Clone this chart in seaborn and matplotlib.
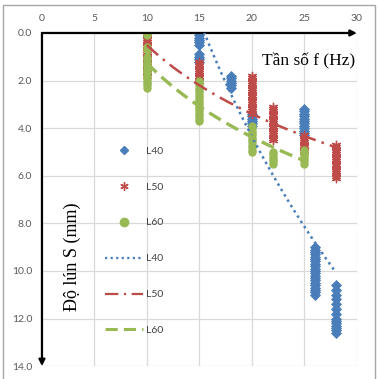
import numpy as np
import pandas as pd
import matplotlib
matplotlib.use('Agg')
import matplotlib.pyplot as plt
import seaborn as sns
from matplotlib.lines import Line2D
from matplotlib.patches import Rectangle

# settlement readings (mm) for each frequency (Hz)
L40_f = [15] * 10 + [18] * 6 + [20] * 6 + [25] * 12 + [26] * 21 + [28] * 14
L40_S = [0.0, 0.1, 0.2, 0.3, 0.4, 0.5, 0.9, 1.0, 1.1, 1.2,
         1.8, 1.9, 2.0, 2.1, 2.2, 2.3,
         3.4, 3.5, 3.6, 3.7, 3.8, 3.9,
         3.2, 3.3, 3.4, 3.5, 3.6, 3.7, 3.8, 3.9, 4.0, 4.1, 4.2, 4.3,
         9.0, 9.1, 9.2, 9.3, 9.4, 9.5, 9.6, 9.7, 9.8, 9.9, 10.0,
         10.1, 10.2, 10.3, 10.4, 10.5, 10.6, 10.7, 10.8, 10.9, 11.0,
         10.6, 10.8, 11.0, 11.2, 11.4, 11.6, 11.8, 12.0, 12.1, 12.2, 12.3, 12.4, 12.5, 12.6]

L50_f = [10] * 19 + [15] * 9 + [20] * 17 + [22] * 15 + [25] * 8 + [28] * 15
L50_S = [0.0, 0.1, 0.2, 0.3, 0.4, 0.5, 0.6, 0.7, 0.8, 0.9, 1.0,
         1.1, 1.2, 1.3, 1.4, 1.5, 1.6, 1.7, 1.8,
         1.2, 1.3, 1.4, 1.5, 1.6, 1.7, 1.8, 1.9, 2.0,
         1.8, 1.9, 2.0, 2.1, 2.2, 2.3, 2.4, 2.5, 2.6, 2.7, 2.8, 2.9, 3.0, 3.1, 3.2, 3.3, 3.4,
         3.1, 3.2, 3.3, 3.4, 3.5, 3.6, 3.7, 3.8, 3.9, 4.0, 4.1, 4.2, 4.3, 4.4, 4.5,
         4.3, 4.4, 4.5, 4.6, 4.7, 4.8, 4.9, 5.0,
         4.7, 4.8, 4.9, 5.0, 5.1, 5.2, 5.3, 5.4, 5.5, 5.6, 5.7, 5.8, 5.9, 6.0, 6.1]

L60_f = [10] * 18 + [15] * 18 + [20] * 12 + [22] * 6 + [25] * 7
L60_S = [0.0, 0.1, 0.6, 0.7,
         1.0, 1.1, 1.2, 1.3, 1.4, 1.5, 1.6, 1.7, 1.8, 1.9, 2.0, 2.1, 2.2, 2.3,
         2.0, 2.1, 2.2, 2.3, 2.4, 2.5, 2.6, 2.7, 2.8, 2.9, 3.0, 3.1, 3.2, 3.3, 3.4, 3.5, 3.6, 3.7,
         3.9, 4.0, 4.1, 4.2, 4.3, 4.4, 4.5, 4.6, 4.7, 4.8, 4.9, 5.0,
         5.0, 5.1, 5.2, 5.3, 5.4, 5.5,
         4.9, 5.0, 5.1, 5.2, 5.3, 5.4, 5.5]

series = ['L40', 'L50', 'L60']
colors = {'L40': '#4A7EBB', 'L50': '#BE4B48', 'L60': '#98B954'}
markers = {'L40': 'D', 'L50': (6, 2, 0), 'L60': 'o'}
dashes = {'L40': (1, 1.5), 'L50': (6, 2.5, 1, 2.5), 'L60': (4, 2)}
widths = {'L40': 1.8, 'L50': 1.8, 'L60': 2.4}

pts = pd.concat([
    pd.DataFrame({'f': L40_f, 'S': L40_S, 'series': 'L40'}),
    pd.DataFrame({'f': L50_f, 'S': L50_S, 'series': 'L50'}),
    pd.DataFrame({'f': L60_f, 'S': L60_S, 'series': 'L60'}),
], ignore_index=True)

# logarithmic trend lines (like Excel), fitted on the readings
trend_rows = []
for s in series:
    d = pts[pts['series'] == s]
    a, b = np.polyfit(np.log(d['f']), d['S'], 1)
    xs = np.linspace(d['f'].min(), d['f'].max(), 80)
    trend_rows.append(pd.DataFrame({'f': xs, 'S': a * np.log(xs) + b, 'series': s}))
trend = pd.concat(trend_rows, ignore_index=True)

sns.set_style('white')
plt.rcParams['font.family'] = ['Lato', 'DejaVu Sans']

fig = plt.figure(figsize=(3.78, 3.79), dpi=100)
ax = fig.add_axes([0.111, 0.034, 0.833, 0.879])

for s in series:
    d = pts[pts['series'] == s]
    if s == 'L50':
        sns.scatterplot(data=d, x='f', y='S', color=colors[s], marker=markers[s],
                        s=36, linewidth=1.0, edgecolor=colors[s], ax=ax,
                        legend=False, zorder=3)
    else:
        sns.scatterplot(data=d, x='f', y='S', color=colors[s], marker=markers[s],
                        s=32 if s == 'L40' else 36, linewidth=0, ax=ax,
                        legend=False, zorder=3)

for s in series:
    d = trend[trend['series'] == s]
    sns.lineplot(data=d, x='f', y='S', color=colors[s], lw=widths[s],
                 ax=ax, legend=False, zorder=4)
    ax.lines[-1].set_dashes(dashes[s])

ax.set_xlim(0, 30)
ax.set_ylim(14, 0)
ax.set_xticks(np.arange(0, 31, 5))
ax.set_yticks(np.arange(0, 15, 2))
ax.set_yticklabels([f'{v:.1f}' for v in np.arange(0, 15, 2)])
ax.xaxis.tick_top()
ax.tick_params(axis='both', labelsize=7.5, labelcolor='#595959', length=0, pad=7)
ax.grid(True, color='#D9D9D9', lw=0.9)
ax.set_xlabel('')
ax.set_ylabel('')
for sp in ['right', 'bottom', 'top', 'left']:
    ax.spines[sp].set_visible(False)

# axis lines with arrow heads
ax.annotate('', xy=(1.0, 1.0), xytext=(0, 1.0), xycoords='axes fraction',
            arrowprops=dict(arrowstyle='-|>', color='black', lw=1.6,
                            mutation_scale=9, shrinkA=0, shrinkB=0))
ax.annotate('', xy=(0, 0.0), xytext=(0, 1.0), xycoords='axes fraction',
            arrowprops=dict(arrowstyle='-|>', color='black', lw=1.6,
                            mutation_scale=9, shrinkA=0, shrinkB=0))

ax.text(29.8, 1.2, 'Tần số f (Hz)', ha='right', va='center', fontsize=12.5,
        family=['Liberation Serif', 'DejaVu Serif'], color='black')
ax.text(2.85, 9.4, 'Độ lún S (mm)', ha='center', va='center', rotation=90,
        fontsize=13, family=['Liberation Serif', 'DejaVu Serif'], color='black')

handles = [
    Line2D([], [], ls='none', marker='D', ms=4.5, color=colors['L40'], label='L40'),
    Line2D([], [], ls='none', marker=(6, 2, 0), ms=6, mew=1.0, color=colors['L50'], label='L50'),
    Line2D([], [], ls='none', marker='o', ms=6, color=colors['L60'], label='L60'),
    Line2D([], [], lw=1.6, color=colors['L40'], dashes=dashes['L40'], label='L40'),
    Line2D([], [], lw=1.6, color=colors['L50'], dashes=dashes['L50'], label='L50'),
    Line2D([], [], lw=2.2, color=colors['L60'], dashes=dashes['L60'], label='L60'),
]
leg = ax.legend(handles=handles, loc='upper left', bbox_to_anchor=(0.185, 0.675),
                frameon=False, fontsize=7.5, labelspacing=2.55, handlelength=3.6,
                handletextpad=0.25, borderpad=0)
for t in leg.get_texts():
    t.set_color('#404040')

fig.patches.append(Rectangle((0.008, -0.01), 0.984, 0.997, transform=fig.transFigure,
                             fill=False, edgecolor='#A6A6A6', lw=1.0))

plt.savefig('out.png', dpi=100)
